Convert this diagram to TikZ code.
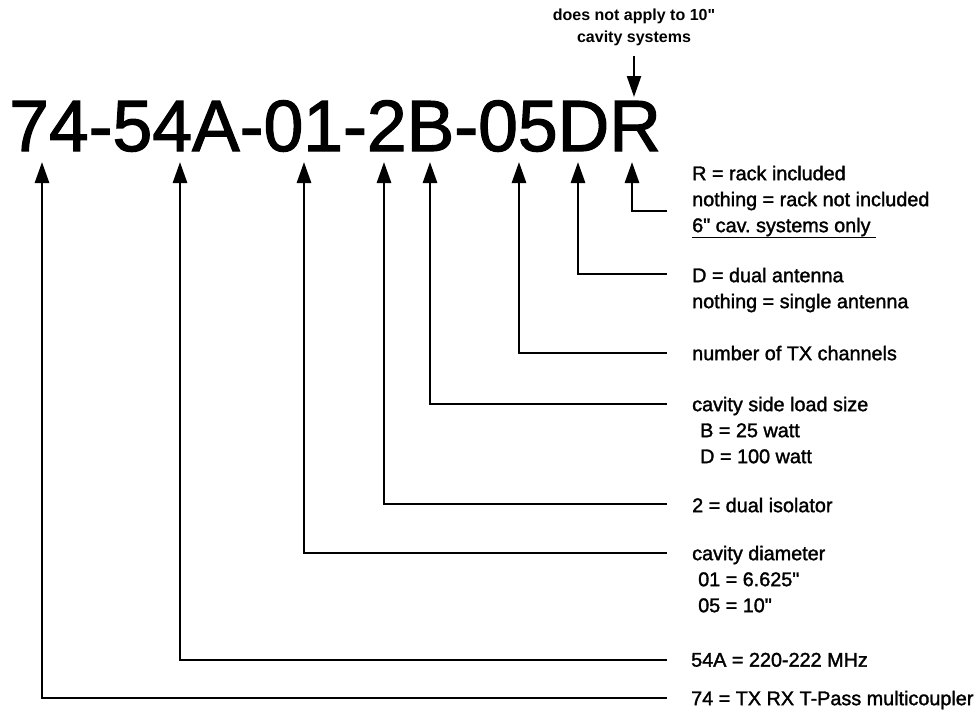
\documentclass[tikz,border=0pt]{standalone}
\usepackage{fontspec}
\setmainfont{Liberation Sans}
\newfontfamily\lblfamily[FakeBold=1.6]{Liberation Sans}
\newfontfamily\codefamily[FakeBold=1.6]{Liberation Sans}
\newfontfamily\notefamily{Liberation Sans Bold}
\usetikzlibrary{arrows.meta}
\frenchspacing
\begin{document}
\begin{tikzpicture}[x=1pt,y=-1pt,
  lead/.style={line width=2.8pt, line join=miter, -{Triangle[length=21pt,width=14pt]}},
  pointer/.style={line width=2.4pt, -{Triangle[length=21pt,width=14pt]}},
  lbl/.style={anchor=north west, inner sep=0pt, align=left,
              font=\lblfamily\fontsize{19.8}{26}\selectfont},
  codetext/.style={anchor=base west, inner sep=0pt, xscale=0.985,
              font=\codefamily\fontsize{72.6}{80}\selectfont},
  notetext/.style={anchor=north, inner sep=0pt, align=center,
              font=\notefamily\fontsize{16}{22}\selectfont}]
\useasboundingbox (0,0) rectangle (976,721);

% part number
\node[codetext] (code) at (9,151) {74-54A-01-2B-05DR};

% note above
\node[notetext] (note) at (634,9) {does not apply to 10"\\cavity systems};
\coordinate (noteTip) at (634,97);
\draw[pointer] ([yshift=-10pt]note.south) -- (noteTip);

% labels
\node[lbl] (lR) at (692,165.6) {R = rack included\\nothing = rack not included\\\underline{6" cav.\ systems only\ }};
\node[lbl] (lD) at (692,267.6) {D = dual antenna\\nothing = single antenna};
\node[lbl] (l05) at (692,345.6) {number of TX channels};
\node[lbl] (lB) at (692,396.6) {cavity side load size\\\hspace*{8pt}B = 25 watt\\\hspace*{8pt}D = 100 watt};
\node[lbl] (l2) at (692,497.6) {2 = dual isolator};
\node[lbl] (l01) at (692,545.6) {cavity diameter\\\hspace*{6pt}01 = 6.625"\\\hspace*{6pt}05 = 10"};
\node[lbl] (l54) at (691,652.6) {54A = 220-222 MHz};
\node[lbl] (l74) at (691,690.6) {74 = TX RX T-Pass multicoupler};

% arrow tips under the characters
\coordinate (t74) at (42,162);
\coordinate (t54) at (180,162);
\coordinate (t01) at (304,162);
\coordinate (t2)  at (384,162);
\coordinate (tB)  at (430,162);
\coordinate (t05) at (519,162);
\coordinate (tD)  at (578,162);
\coordinate (tR)  at (632,162);

% line ends beside the labels
\coordinate (eR)  at (667,211);
\coordinate (eD)  at (667,274);
\coordinate (e05) at (667,353);
\coordinate (eB)  at (667,404);
\coordinate (e2)  at (667,504);
\coordinate (e01) at (667,553);
\coordinate (e54) at (667,660);
\coordinate (e74) at (667,698);

\draw[lead] (eR)  -| (tR);
\draw[lead] (eD)  -| (tD);
\draw[lead] (e05) -| (t05);
\draw[lead] (eB)  -| (tB);
\draw[lead] (e2)  -| (t2);
\draw[lead] (e01) -| (t01);
\draw[lead] (e54) -| (t54);
\draw[lead] (e74) -| (t74);
\end{tikzpicture}
\end{document}
